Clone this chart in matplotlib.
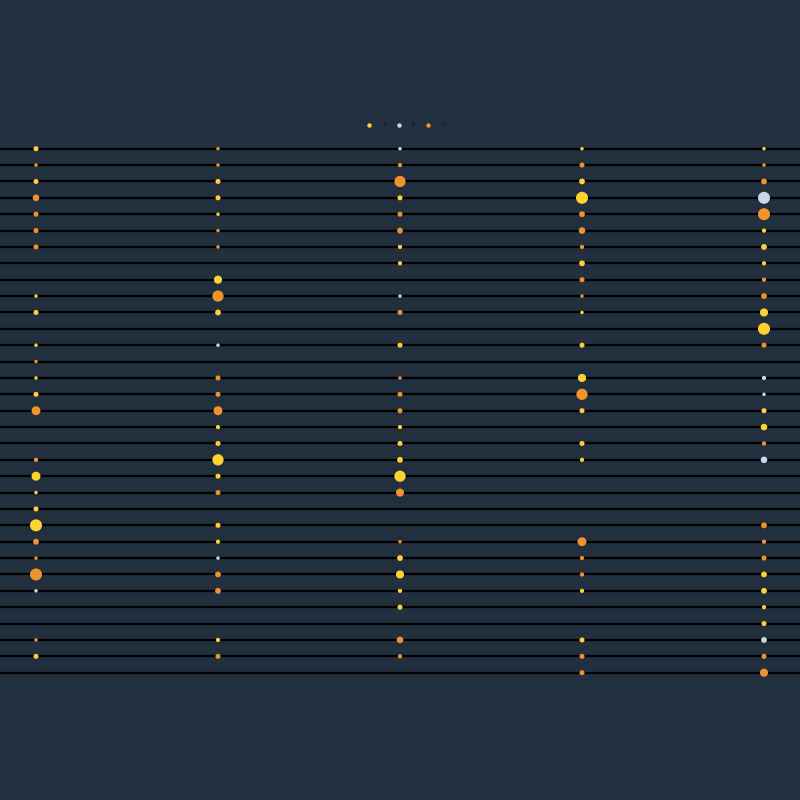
import numpy as np
import matplotlib
matplotlib.use("Agg")
import matplotlib.pyplot as plt
from matplotlib.lines import Line2D

# colour key per dot: Y / O / G, '' = no dot
groups = ["Y", "G", "O"]
group_colors = {"Y": "#fed330", "O": "#f0932b", "G": "#c8d6e5"}
legend_labels = ["a", "b", "c"]

n_rows = 33
columns = ["c1", "c2", "c3", "c4", "c5"]

col1_cat = ["Y", "O", "Y", "O", "O", "O", "O", "", "", "Y", "Y", "", "Y", "O", "Y", "Y", "O",
            "", "", "O", "Y", "Y", "Y", "Y", "O", "O", "O", "G", "", "", "O", "Y", ""]
col1_val = [2, 1, 2, 3, 2, 2, 2, 0, 0, 1, 2, 0, 1, 1, 1, 2, 4.5,
            0, 0, 1.5, 4.5, 1, 2, 6.5, 2.5, 1, 6.5, 1, 0, 0, 1, 2, 0]

col2_cat = ["O", "O", "Y", "Y", "Y", "O", "O", "", "Y", "O", "Y", "", "G", "", "O", "O", "O",
            "Y", "Y", "Y", "Y", "O", "", "Y", "Y", "G", "O", "O", "", "", "Y", "O", ""]
col2_val = [1, 1, 2, 2, 1, 1, 1, 0, 4, 6, 2.5, 0, 1, 0, 2, 2, 4.5,
            1.5, 2, 6, 2, 2, 0, 2, 1.5, 1, 2.5, 2.5, 0, 0, 1.5, 2, 0]

col3_cat = ["G", "O", "O", "Y", "O", "O", "Y", "Y", "", "G", "O", "", "Y", "", "O", "O", "O",
            "Y", "Y", "Y", "Y", "O", "", "", "O", "Y", "Y", "Y", "Y", "", "O", "O", ""]
col3_val = [1, 1.5, 6, 2, 2, 2.5, 1.5, 1.5, 0, 1, 2, 0, 2, 0, 1, 2, 2,
            1.5, 2, 2.5, 6, 4, 0, 0, 1, 2.5, 4, 1.5, 2, 0, 3, 1.5, 0]

col4_cat = ["Y", "O", "Y", "Y", "O", "O", "O", "Y", "O", "O", "Y", "", "Y", "", "Y", "O", "Y",
            "", "Y", "Y", "", "", "", "", "O", "O", "O", "Y", "", "", "Y", "O", "O"]
col4_val = [1, 2, 2.5, 6.5, 2.5, 3, 1.5, 2.5, 2, 1, 1, 0, 2, 0, 4, 6, 2,
            0, 2, 1.5, 0, 0, 0, 0, 4.5, 1.5, 1.5, 1.5, 0, 0, 2, 2, 2]

col5_cat = ["Y", "O", "O", "G", "O", "Y", "Y", "Y", "O", "O", "Y", "Y", "O", "", "G", "G", "Y",
            "Y", "O", "G", "", "", "", "O", "O", "O", "Y", "Y", "Y", "Y", "G", "O", "O"]
col5_val = [1, 1, 2.5, 6.5, 6.5, 1.5, 2.5, 1.5, 1.5, 2.5, 4, 6.5, 2, 0, 1.5, 1, 2,
            3, 1.5, 3, 0, 0, 0, 2.5, 1.5, 2, 2.5, 2.5, 1.5, 2, 2.5, 2, 4]

cats = [col1_cat, col2_cat, col3_cat, col4_cat, col5_cat]
vals = [col1_val, col2_val, col3_val, col4_val, col5_val]

bg = "#222f3e"
W, H = 800, 800
col_px = 182.0
row_px = 524 / 32.0
first_col_px = 36.0
first_row_px = 148.7

fig = plt.figure(figsize=(8, 8), dpi=100, facecolor=bg)
ax_h = n_rows * row_px / H
ax_bottom = 1 - (first_row_px - row_px / 2) / H - ax_h
ax = fig.add_axes([0, ax_bottom, 1, ax_h])
ax.set_facecolor(bg)
ax.set_xlim(-first_col_px / col_px, (W - first_col_px) / col_px)
ax.set_ylim(n_rows - 0.5, -0.5)
ax.axis("off")

for r in range(n_rows):
    ax.axhline(r, color="#000000", lw=1.6, zorder=1)


def diam(v):
    # value -> marker diameter in px
    return 3.5 + (np.asarray(v, float) - 1) * 1.55


for ci in range(len(columns)):
    for r in range(n_rows):
        c = cats[ci][r]
        if not c:
            continue
        d = diam(vals[ci][r]) * 0.72
        ax.scatter([ci], [r], s=d ** 2, color=group_colors[c], edgecolors="none", zorder=3)

handles = [Line2D([], [], ls="none", marker="o", markersize=3.2, markerfacecolor=group_colors[g],
                  markeredgecolor="none") for g in groups]
leg = fig.legend(handles, legend_labels, loc="center", bbox_to_anchor=(406 / W, 1 - 125 / H), ncol=3,
                 frameon=False, fontsize=4, handlelength=0.6, handletextpad=2.05, columnspacing=2.05,
                 labelcolor="#111111")

fig.savefig("out.png", dpi=100, facecolor=bg)
